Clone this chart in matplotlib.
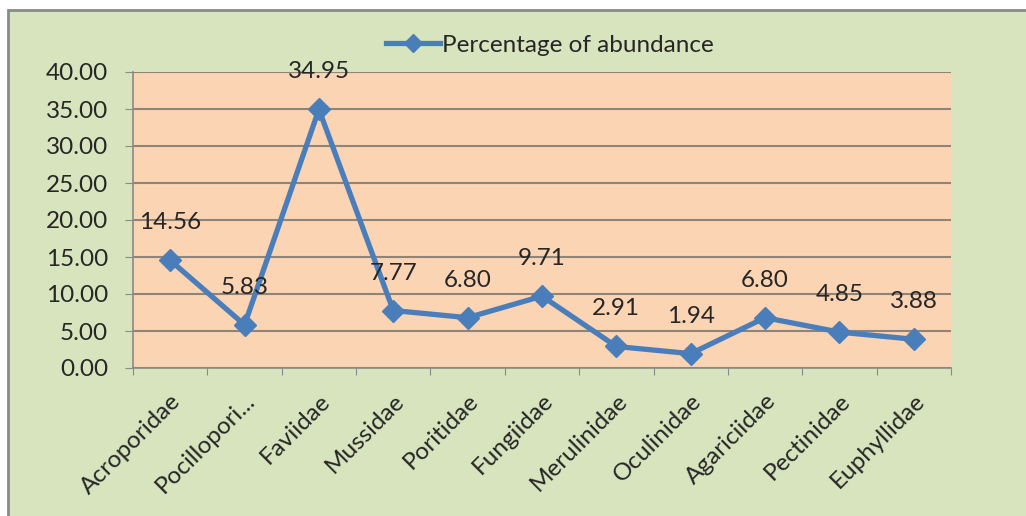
import matplotlib.pyplot as plt
from matplotlib.patches import Rectangle

families = ['Acroporidae', 'Pocillopori...', 'Faviidae', 'Mussidae', 'Poritidae',
            'Fungiidae', 'Merulinidae', 'Oculinidae', 'Agariciidae', 'Pectinidae',
            'Euphyllidae']
abundance = [14.56, 5.83, 34.95, 7.77, 6.80, 9.71, 2.91, 1.94, 6.80, 4.85, 3.88]
yticks = [0, 5, 10, 15, 20, 25, 30, 35, 40]

plt.rcParams['font.family'] = ['Lato', 'DejaVu Sans']

fig = plt.figure(figsize=(10.26, 5.16), dpi=100)
fig.patch.set_facecolor('white')
# green chart background with grey frame on left/top
fig.patches.append(Rectangle((8 / 1026, -0.1), 1.1, 1.1 - 10 / 516, transform=fig.transFigure,
                             facecolor='#d7e4bd', edgecolor='#8a8a8a', linewidth=2, zorder=-10))

ax = fig.add_axes([133 / 1026, 1 - 368 / 516, (951 - 133) / 1026, (368 - 72) / 516])
ax.set_facecolor('#fbd4b4')

x = list(range(len(families)))
ax.plot(x, abundance, color='#4a7ebb', lw=3.8, marker='D', ms=11,
        label='Percentage of abundance', clip_on=False, zorder=3)

for xi, v in zip(x, abundance):
    ax.annotate('%.2f' % v, (xi, v), xytext=(0, 27), textcoords='offset points',
                ha='center', va='center', fontsize=17.5, color='#262626', zorder=4)

ax.set_xlim(-0.5, len(families) - 0.5)
ax.set_ylim(0, 40)
ax.set_yticks(yticks)
ax.set_yticklabels(['%.2f' % t for t in yticks], fontsize=17.5, color='#262626')
ax.yaxis.grid(True, color='#8e8478', lw=1.5)
ax.set_axisbelow(True)

ax.set_xticks([i - 0.5 for i in range(len(families) + 1)], minor=False)
ax.set_xticklabels([])
ax.set_xticks(x, minor=True)
ax.set_xticklabels(families, minor=True, rotation=45, ha='right', rotation_mode='anchor',
                   fontsize=17.5, color='#262626')
ax.tick_params(axis='x', which='minor', length=0, pad=16)
ax.tick_params(axis='x', which='major', length=5, color='#8a8a8a')
ax.tick_params(axis='y', length=6, color='#8a8a8a', pad=12)

for s in ['top', 'right']:
    ax.spines[s].set_visible(False)
for s in ['left', 'bottom']:
    ax.spines[s].set_color('#8a8a8a')
    ax.spines[s].set_linewidth(1.2)

fig.legend(loc='center', bbox_to_anchor=(550 / 1026, 1 - 45 / 516), frameon=False,
           fontsize=17.5, handlelength=2.2, handletextpad=0.1, markerscale=0.8,
           labelcolor='#262626')

fig.savefig('out.png', dpi=100)
